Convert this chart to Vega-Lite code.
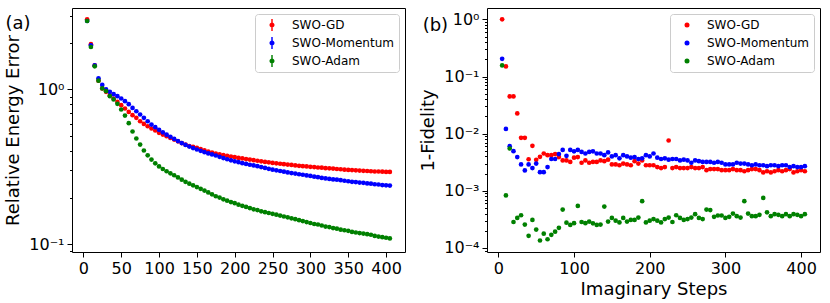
{
"$schema": "https://vega.github.io/schema/vega-lite/v6.json",
"padding": {"left": 4, "top": 7, "right": 5, "bottom": 2},
"config": {
  "font": "DejaVu Sans",
  "view": {"stroke": "black", "strokeWidth": 1},
  "axis": {"grid": false, "domain": false, "tickColor": "black", "tickSize": 5, "labelColor": "black", "labelFontSize": 16, "labelPadding": 3, "titleColor": "black", "titleFontSize": 18, "titleFontWeight": "normal", "labelOverlap": false},
  "legend": {"orient": "top-right", "offset": 6, "padding": 5, "fillColor": "rgba(255,255,255,0.8)", "strokeColor": "#cccccc", "cornerRadius": 3, "labelFontSize": 12, "labelColor": "black", "rowPadding": 6, "symbolOffset": 6, "labelOffset": 14}
},
"datasets": {"d": [
{"m":"SWO-GD","s":5,"e":2.84,"f":1.0},{"m":"SWO-GD","s":10,"e":1.96,"f":0.15},{"m":"SWO-GD","s":15,"e":1.43,"f":0.0448},{"m":"SWO-GD","s":20,"e":1.14,"f":0.0448},{"m":"SWO-GD","s":25,"e":1.015,"f":0.0226},{"m":"SWO-GD","s":30,"e":0.965,"f":0.00845},{"m":"SWO-GD","s":35,"e":0.918,"f":0.00845},{"m":"SWO-GD","s":40,"e":0.874,"f":0.00357},{"m":"SWO-GD","s":45,"e":0.831,"f":0.00612},{"m":"SWO-GD","s":50,"e":0.791,"f":0.00348},
{"m":"SWO-GD","s":55,"e":0.753,"f":0.00393},{"m":"SWO-GD","s":60,"e":0.716,"f":0.0045},{"m":"SWO-GD","s":65,"e":0.682,"f":0.0042},{"m":"SWO-GD","s":70,"e":0.655,"f":0.0042},{"m":"SWO-GD","s":75,"e":0.623,"f":0.0044},{"m":"SWO-GD","s":80,"e":0.599,"f":0.0039},{"m":"SWO-GD","s":85,"e":0.578,"f":0.0034},{"m":"SWO-GD","s":90,"e":0.559,"f":0.0034},{"m":"SWO-GD","s":95,"e":0.543,"f":0.0032},{"m":"SWO-GD","s":100,"e":0.524,"f":0.0038},
{"m":"SWO-GD","s":105,"e":0.511,"f":0.0039},{"m":"SWO-GD","s":110,"e":0.499,"f":0.0031},{"m":"SWO-GD","s":115,"e":0.486,"f":0.0034},{"m":"SWO-GD","s":120,"e":0.474,"f":0.0031},{"m":"SWO-GD","s":125,"e":0.462,"f":0.0032},{"m":"SWO-GD","s":130,"e":0.45,"f":0.0032},{"m":"SWO-GD","s":135,"e":0.44,"f":0.0034},{"m":"SWO-GD","s":140,"e":0.431,"f":0.0033},{"m":"SWO-GD","s":145,"e":0.425,"f":0.0035},{"m":"SWO-GD","s":150,"e":0.419,"f":0.0029},
{"m":"SWO-GD","s":155,"e":0.411,"f":0.0029},{"m":"SWO-GD","s":160,"e":0.404,"f":0.0028},{"m":"SWO-GD","s":165,"e":0.397,"f":0.003},{"m":"SWO-GD","s":170,"e":0.391,"f":0.0029},{"m":"SWO-GD","s":175,"e":0.385,"f":0.0028},{"m":"SWO-GD","s":180,"e":0.381,"f":0.0033},{"m":"SWO-GD","s":185,"e":0.376,"f":0.003},{"m":"SWO-GD","s":190,"e":0.372,"f":0.0034},{"m":"SWO-GD","s":195,"e":0.368,"f":0.0028},{"m":"SWO-GD","s":200,"e":0.365,"f":0.0028},
{"m":"SWO-GD","s":205,"e":0.361,"f":0.0028},{"m":"SWO-GD","s":210,"e":0.358,"f":0.0026},{"m":"SWO-GD","s":215,"e":0.355,"f":0.0025},{"m":"SWO-GD","s":220,"e":0.352,"f":0.0026},{"m":"SWO-GD","s":225,"e":0.349,"f":0.0076},{"m":"SWO-GD","s":230,"e":0.346,"f":0.0025},{"m":"SWO-GD","s":235,"e":0.343,"f":0.0026},{"m":"SWO-GD","s":240,"e":0.34,"f":0.0025},{"m":"SWO-GD","s":245,"e":0.338,"f":0.0025},{"m":"SWO-GD","s":250,"e":0.335,"f":0.0025},
{"m":"SWO-GD","s":255,"e":0.333,"f":0.0026},{"m":"SWO-GD","s":260,"e":0.331,"f":0.0025},{"m":"SWO-GD","s":265,"e":0.329,"f":0.0025},{"m":"SWO-GD","s":270,"e":0.327,"f":0.0026},{"m":"SWO-GD","s":275,"e":0.325,"f":0.0023},{"m":"SWO-GD","s":280,"e":0.323,"f":0.0024},{"m":"SWO-GD","s":285,"e":0.321,"f":0.0024},{"m":"SWO-GD","s":290,"e":0.319,"f":0.0024},{"m":"SWO-GD","s":295,"e":0.318,"f":0.0023},{"m":"SWO-GD","s":300,"e":0.316,"f":0.0023},
{"m":"SWO-GD","s":305,"e":0.315,"f":0.0023},{"m":"SWO-GD","s":310,"e":0.313,"f":0.0024},{"m":"SWO-GD","s":315,"e":0.312,"f":0.0023},{"m":"SWO-GD","s":320,"e":0.31,"f":0.0023},{"m":"SWO-GD","s":325,"e":0.309,"f":0.0022},{"m":"SWO-GD","s":330,"e":0.308,"f":0.0023},{"m":"SWO-GD","s":335,"e":0.306,"f":0.0024},{"m":"SWO-GD","s":340,"e":0.305,"f":0.0024},{"m":"SWO-GD","s":345,"e":0.303,"f":0.0023},{"m":"SWO-GD","s":350,"e":0.302,"f":0.0021},
{"m":"SWO-GD","s":355,"e":0.301,"f":0.0022},{"m":"SWO-GD","s":360,"e":0.3,"f":0.0021},{"m":"SWO-GD","s":365,"e":0.299,"f":0.0022},{"m":"SWO-GD","s":370,"e":0.298,"f":0.0023},{"m":"SWO-GD","s":375,"e":0.297,"f":0.0022},{"m":"SWO-GD","s":380,"e":0.296,"f":0.0023},{"m":"SWO-GD","s":385,"e":0.295,"f":0.0024},{"m":"SWO-GD","s":390,"e":0.295,"f":0.0021},{"m":"SWO-GD","s":395,"e":0.294,"f":0.0022},{"m":"SWO-GD","s":400,"e":0.293,"f":0.0023},{"m":"SWO-GD","s":405,"e":0.293,"f":0.0022},
{"m":"SWO-Momentum","s":5,"e":2.77,"f":0.204},{"m":"SWO-Momentum","s":10,"e":1.93,"f":0.0121},{"m":"SWO-Momentum","s":15,"e":1.43,"f":0.00604},{"m":"SWO-Momentum","s":20,"e":1.18,"f":0.00494},{"m":"SWO-Momentum","s":25,"e":1.07,"f":0.0039},{"m":"SWO-Momentum","s":30,"e":1.0,"f":0.0029},{"m":"SWO-Momentum","s":35,"e":0.965,"f":0.00227},{"m":"SWO-Momentum","s":40,"e":0.932,"f":0.0029},{"m":"SWO-Momentum","s":45,"e":0.905,"f":0.0025},{"m":"SWO-Momentum","s":50,"e":0.874,"f":0.003},
{"m":"SWO-Momentum","s":55,"e":0.84,"f":0.00212},{"m":"SWO-Momentum","s":60,"e":0.803,"f":0.00212},{"m":"SWO-Momentum","s":65,"e":0.76,"f":0.0026},{"m":"SWO-Momentum","s":70,"e":0.723,"f":0.0036},{"m":"SWO-Momentum","s":75,"e":0.689,"f":0.0036},{"m":"SWO-Momentum","s":80,"e":0.655,"f":0.0044},{"m":"SWO-Momentum","s":85,"e":0.623,"f":0.0052},{"m":"SWO-Momentum","s":90,"e":0.593,"f":0.0041},{"m":"SWO-Momentum","s":95,"e":0.57,"f":0.0052},{"m":"SWO-Momentum","s":100,"e":0.548,"f":0.0049},
{"m":"SWO-Momentum","s":105,"e":0.528,"f":0.0052},{"m":"SWO-Momentum","s":110,"e":0.51,"f":0.0048},{"m":"SWO-Momentum","s":115,"e":0.494,"f":0.0045},{"m":"SWO-Momentum","s":120,"e":0.479,"f":0.0048},{"m":"SWO-Momentum","s":125,"e":0.464,"f":0.0049},{"m":"SWO-Momentum","s":130,"e":0.45,"f":0.0045},{"m":"SWO-Momentum","s":135,"e":0.438,"f":0.0045},{"m":"SWO-Momentum","s":140,"e":0.427,"f":0.0042},{"m":"SWO-Momentum","s":145,"e":0.418,"f":0.0047},{"m":"SWO-Momentum","s":150,"e":0.409,"f":0.004},
{"m":"SWO-Momentum","s":155,"e":0.401,"f":0.0042},{"m":"SWO-Momentum","s":160,"e":0.393,"f":0.0037},{"m":"SWO-Momentum","s":165,"e":0.386,"f":0.0042},{"m":"SWO-Momentum","s":170,"e":0.38,"f":0.004},{"m":"SWO-Momentum","s":175,"e":0.374,"f":0.0038},{"m":"SWO-Momentum","s":180,"e":0.367,"f":0.0039},{"m":"SWO-Momentum","s":185,"e":0.36,"f":0.0036},{"m":"SWO-Momentum","s":190,"e":0.354,"f":0.0037},{"m":"SWO-Momentum","s":195,"e":0.348,"f":0.0042},{"m":"SWO-Momentum","s":200,"e":0.343,"f":0.004},
{"m":"SWO-Momentum","s":205,"e":0.339,"f":0.0045},{"m":"SWO-Momentum","s":210,"e":0.334,"f":0.0038},{"m":"SWO-Momentum","s":215,"e":0.33,"f":0.0036},{"m":"SWO-Momentum","s":220,"e":0.326,"f":0.0037},{"m":"SWO-Momentum","s":225,"e":0.323,"f":0.0035},{"m":"SWO-Momentum","s":230,"e":0.319,"f":0.0036},{"m":"SWO-Momentum","s":235,"e":0.315,"f":0.0036},{"m":"SWO-Momentum","s":240,"e":0.311,"f":0.0034},{"m":"SWO-Momentum","s":245,"e":0.307,"f":0.0035},{"m":"SWO-Momentum","s":250,"e":0.303,"f":0.0034},
{"m":"SWO-Momentum","s":255,"e":0.3,"f":0.0031},{"m":"SWO-Momentum","s":260,"e":0.297,"f":0.0034},{"m":"SWO-Momentum","s":265,"e":0.294,"f":0.0033},{"m":"SWO-Momentum","s":270,"e":0.291,"f":0.0032},{"m":"SWO-Momentum","s":275,"e":0.288,"f":0.0032},{"m":"SWO-Momentum","s":280,"e":0.286,"f":0.0032},{"m":"SWO-Momentum","s":285,"e":0.283,"f":0.0031},{"m":"SWO-Momentum","s":290,"e":0.281,"f":0.0032},{"m":"SWO-Momentum","s":295,"e":0.278,"f":0.0031},{"m":"SWO-Momentum","s":300,"e":0.276,"f":0.0029},
{"m":"SWO-Momentum","s":305,"e":0.273,"f":0.0029},{"m":"SWO-Momentum","s":310,"e":0.271,"f":0.0029},{"m":"SWO-Momentum","s":315,"e":0.268,"f":0.0031},{"m":"SWO-Momentum","s":320,"e":0.266,"f":0.003},{"m":"SWO-Momentum","s":325,"e":0.264,"f":0.003},{"m":"SWO-Momentum","s":330,"e":0.262,"f":0.0029},{"m":"SWO-Momentum","s":335,"e":0.261,"f":0.0028},{"m":"SWO-Momentum","s":340,"e":0.259,"f":0.0029},{"m":"SWO-Momentum","s":345,"e":0.257,"f":0.0028},{"m":"SWO-Momentum","s":350,"e":0.255,"f":0.0028},
{"m":"SWO-Momentum","s":355,"e":0.253,"f":0.0027},{"m":"SWO-Momentum","s":360,"e":0.252,"f":0.0028},{"m":"SWO-Momentum","s":365,"e":0.25,"f":0.0028},{"m":"SWO-Momentum","s":370,"e":0.249,"f":0.0027},{"m":"SWO-Momentum","s":375,"e":0.247,"f":0.0028},{"m":"SWO-Momentum","s":380,"e":0.246,"f":0.0028},{"m":"SWO-Momentum","s":385,"e":0.244,"f":0.0026},{"m":"SWO-Momentum","s":390,"e":0.243,"f":0.0027},{"m":"SWO-Momentum","s":395,"e":0.241,"f":0.0026},{"m":"SWO-Momentum","s":400,"e":0.24,"f":0.0026},{"m":"SWO-Momentum","s":405,"e":0.239,"f":0.0027},
{"m":"SWO-Adam","s":5,"e":2.77,"f":0.156},{"m":"SWO-Adam","s":10,"e":1.88,"f":0.00083},{"m":"SWO-Adam","s":15,"e":1.41,"f":0.0055},{"m":"SWO-Adam","s":20,"e":1.14,"f":0.000285},{"m":"SWO-Adam","s":25,"e":1.015,"f":0.000335},{"m":"SWO-Adam","s":30,"e":0.975,"f":0.000374},{"m":"SWO-Adam","s":35,"e":0.905,"f":0.000257},{"m":"SWO-Adam","s":40,"e":0.862,"f":0.000163},{"m":"SWO-Adam","s":45,"e":0.807,"f":0.00031},{"m":"SWO-Adam","s":50,"e":0.742,"f":0.00021},
{"m":"SWO-Adam","s":55,"e":0.678,"f":0.000135},{"m":"SWO-Adam","s":60,"e":0.605,"f":0.000178},{"m":"SWO-Adam","s":65,"e":0.535,"f":0.000142},{"m":"SWO-Adam","s":70,"e":0.482,"f":0.00017},{"m":"SWO-Adam","s":75,"e":0.44,"f":0.000193},{"m":"SWO-Adam","s":80,"e":0.403,"f":0.000225},{"m":"SWO-Adam","s":85,"e":0.375,"f":0.00047},{"m":"SWO-Adam","s":90,"e":0.352,"f":0.000277},{"m":"SWO-Adam","s":95,"e":0.333,"f":0.000253},{"m":"SWO-Adam","s":100,"e":0.318,"f":0.000272},
{"m":"SWO-Adam","s":105,"e":0.306,"f":0.000545},{"m":"SWO-Adam","s":110,"e":0.296,"f":0.000285},{"m":"SWO-Adam","s":115,"e":0.287,"f":0.000272},{"m":"SWO-Adam","s":120,"e":0.279,"f":0.00029},{"m":"SWO-Adam","s":125,"e":0.27,"f":0.00027},{"m":"SWO-Adam","s":130,"e":0.261,"f":0.000253},{"m":"SWO-Adam","s":135,"e":0.253,"f":0.000257},{"m":"SWO-Adam","s":140,"e":0.246,"f":0.00053},{"m":"SWO-Adam","s":145,"e":0.24,"f":0.00029},{"m":"SWO-Adam","s":150,"e":0.234,"f":0.000335},
{"m":"SWO-Adam","s":155,"e":0.228,"f":0.0003},{"m":"SWO-Adam","s":160,"e":0.222,"f":0.00028},{"m":"SWO-Adam","s":165,"e":0.216,"f":0.000335},{"m":"SWO-Adam","s":170,"e":0.21,"f":0.00029},{"m":"SWO-Adam","s":175,"e":0.204,"f":0.00031},{"m":"SWO-Adam","s":180,"e":0.2,"f":0.00031},{"m":"SWO-Adam","s":185,"e":0.195,"f":0.00034},{"m":"SWO-Adam","s":190,"e":0.191,"f":0.00066},{"m":"SWO-Adam","s":195,"e":0.187,"f":0.00028},{"m":"SWO-Adam","s":200,"e":0.184,"f":0.0003},
{"m":"SWO-Adam","s":205,"e":0.18,"f":0.00032},{"m":"SWO-Adam","s":210,"e":0.177,"f":0.0003},{"m":"SWO-Adam","s":215,"e":0.174,"f":0.00028},{"m":"SWO-Adam","s":220,"e":0.171,"f":0.00032},{"m":"SWO-Adam","s":225,"e":0.168,"f":0.00034},{"m":"SWO-Adam","s":230,"e":0.166,"f":0.000285},{"m":"SWO-Adam","s":235,"e":0.163,"f":0.000374},{"m":"SWO-Adam","s":240,"e":0.161,"f":0.000335},{"m":"SWO-Adam","s":245,"e":0.159,"f":0.00031},{"m":"SWO-Adam","s":250,"e":0.157,"f":0.00032},
{"m":"SWO-Adam","s":255,"e":0.155,"f":0.00034},{"m":"SWO-Adam","s":260,"e":0.153,"f":0.00039},{"m":"SWO-Adam","s":265,"e":0.151,"f":0.000335},{"m":"SWO-Adam","s":270,"e":0.149,"f":0.00032},{"m":"SWO-Adam","s":275,"e":0.147,"f":0.00047},{"m":"SWO-Adam","s":280,"e":0.145,"f":0.00046},{"m":"SWO-Adam","s":285,"e":0.143,"f":0.00035},{"m":"SWO-Adam","s":290,"e":0.141,"f":0.00037},{"m":"SWO-Adam","s":295,"e":0.139,"f":0.00037},{"m":"SWO-Adam","s":300,"e":0.137,"f":0.000335},
{"m":"SWO-Adam","s":305,"e":0.135,"f":0.00035},{"m":"SWO-Adam","s":310,"e":0.134,"f":0.0004},{"m":"SWO-Adam","s":315,"e":0.132,"f":0.00036},{"m":"SWO-Adam","s":320,"e":0.13,"f":0.00034},{"m":"SWO-Adam","s":325,"e":0.129,"f":0.00066},{"m":"SWO-Adam","s":330,"e":0.127,"f":0.0004},{"m":"SWO-Adam","s":335,"e":0.126,"f":0.00036},{"m":"SWO-Adam","s":340,"e":0.124,"f":0.00036},{"m":"SWO-Adam","s":345,"e":0.123,"f":0.00038},{"m":"SWO-Adam","s":350,"e":0.122,"f":0.00075},
{"m":"SWO-Adam","s":355,"e":0.12,"f":0.00042},{"m":"SWO-Adam","s":360,"e":0.119,"f":0.00036},{"m":"SWO-Adam","s":365,"e":0.118,"f":0.00039},{"m":"SWO-Adam","s":370,"e":0.117,"f":0.00038},{"m":"SWO-Adam","s":375,"e":0.116,"f":0.00036},{"m":"SWO-Adam","s":380,"e":0.115,"f":0.00039},{"m":"SWO-Adam","s":385,"e":0.113,"f":0.00036},{"m":"SWO-Adam","s":390,"e":0.112,"f":0.00039},{"m":"SWO-Adam","s":395,"e":0.111,"f":0.00038},{"m":"SWO-Adam","s":400,"e":0.11,"f":0.00036},{"m":"SWO-Adam","s":405,"e":0.109,"f":0.00039}
], "lab": [{"p": "a", "t": "(a)", "x": -103, "y": 2.47}, {"p": "b", "t": "(b)", "x": -100, "y": 0.637}]},
"spacing": 82,
"bounds": "flush",
"resolve": {"scale": {"x": "independent", "y": "independent", "color": "independent"}, "legend": {"color": "independent"}},
"hconcat": [
  {
    "width": 333, "height": 244,
    "layer": [
      {
        "data": {"name": "d"},
        "mark": {"type": "point", "filled": true, "size": 22, "opacity": 1},
        "encoding": {
          "x": {"field": "s", "type": "quantitative", "scale": {"domain": [-15, 425], "nice": false, "zero": false}, "axis": {"title": null, "values": [0, 50, 100, 150, 200, 250, 300, 350, 400]}},
          "y": {"field": "e", "type": "quantitative", "scale": {"type": "log", "domain": [0.089, 3.36], "nice": false}, "axis": {"title": "Relative Energy Error", "titlePadding": 6, "values": [0.09, 0.1, 0.2, 0.3, 0.4, 0.5, 0.6, 0.7, 0.8, 0.9, 1, 2, 3], "labelExpr": "datum.value == 1 ? '10⁰' : datum.value == 0.1 ? '10⁻¹' : ''", "tickSize": {"condition": {"test": "datum.value == 1 || datum.value == 0.1", "value": 5}, "value": 2.5}}},
          "color": {"field": "m", "type": "nominal", "scale": {"domain": ["SWO-GD", "SWO-Momentum", "SWO-Adam"], "range": ["#ff0000", "#0000ff", "#008000"]}, "legend": {"title": null, "symbolType": "M-0.12,-1L0.12,-1L0.12,1L-0.12,1ZM-0.42,0A0.42,0.42,0,1,1,0.42,0A0.42,0.42,0,1,1,-0.42,0Z", "symbolSize": 144, "symbolStrokeWidth": 0}}
        }
      },
      {
        "data": {"name": "lab"},
        "transform": [{"filter": "datum.p == 'a'"}],
        "mark": {"type": "text", "fontSize": 18, "align": "left", "baseline": "alphabetic", "color": "black"},
        "encoding": {
          "x": {"field": "x", "type": "quantitative"},
          "y": {"field": "y", "type": "quantitative"},
          "text": {"field": "t"}
        }
      }
    ]
  },
  {
    "width": 333, "height": 244,
    "layer": [
      {
        "data": {"name": "d"},
        "mark": {"type": "point", "filled": true, "size": 22, "opacity": 1},
        "encoding": {
          "x": {"field": "s", "type": "quantitative", "scale": {"domain": [-15, 425], "nice": false, "zero": false}, "axis": {"title": "Imaginary Steps", "titlePadding": 4, "values": [0, 100, 200, 300, 400]}},
          "y": {"field": "f", "type": "quantitative", "scale": {"type": "log", "domain": [0.000085, 1.58], "nice": false}, "axis": {"title": "1-Fidelity", "titlePadding": 6, "values": [0.00009, 0.0001, 0.0002, 0.0003, 0.0004, 0.0005, 0.0006, 0.0007, 0.0008, 0.0009, 0.001, 0.002, 0.003, 0.004, 0.005, 0.006, 0.007, 0.008, 0.009, 0.01, 0.02, 0.03, 0.04, 0.05, 0.06, 0.07, 0.08, 0.09, 0.1, 0.2, 0.3, 0.4, 0.5, 0.6, 0.7, 0.8, 0.9, 1], "labelExpr": "datum.value == 1 ? '10⁰' : datum.value == 0.1 ? '10⁻¹' : datum.value == 0.01 ? '10⁻²' : datum.value == 0.001 ? '10⁻³' : datum.value == 0.0001 ? '10⁻⁴' : ''", "tickSize": {"condition": {"test": "datum.value == 1 || datum.value == 0.1 || datum.value == 0.01 || datum.value == 0.001 || datum.value == 0.0001", "value": 5}, "value": 2.5}}},
          "color": {"field": "m", "type": "nominal", "scale": {"domain": ["SWO-GD", "SWO-Momentum", "SWO-Adam"], "range": ["#ff0000", "#0000ff", "#008000"]}, "legend": {"title": null, "symbolType": "circle", "symbolSize": 25, "symbolStrokeWidth": 0}}
        }
      },
      {
        "data": {"name": "lab"},
        "transform": [{"filter": "datum.p == 'b'"}],
        "mark": {"type": "text", "fontSize": 18, "align": "left", "baseline": "alphabetic", "color": "black"},
        "encoding": {
          "x": {"field": "x", "type": "quantitative"},
          "y": {"field": "y", "type": "quantitative"},
          "text": {"field": "t"}
        }
      }
    ]
  }
]
}
